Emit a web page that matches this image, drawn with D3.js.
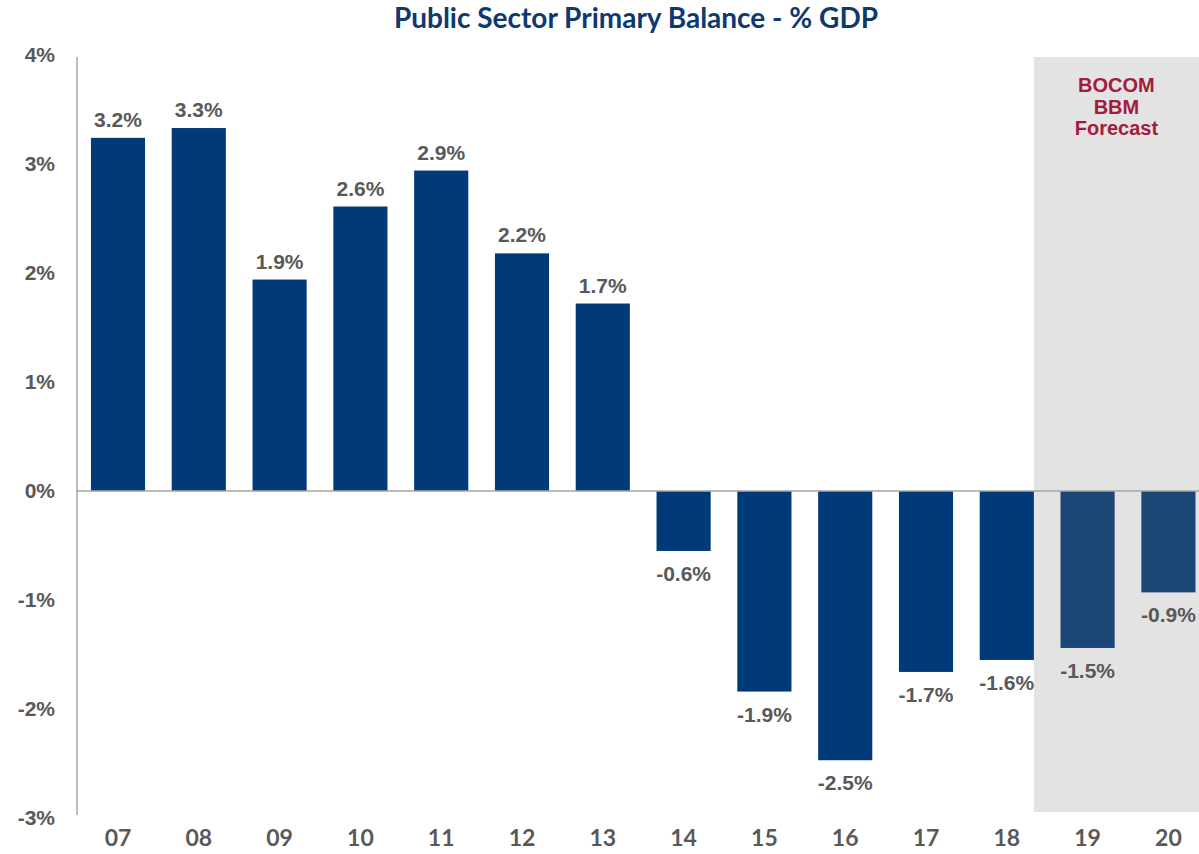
<!DOCTYPE html>
<html>
<head>
<meta charset="utf-8">
<script src="https://cdn.jsdelivr.net/npm/d3@7"></script>
<style>
  body { margin: 0; background: #fff; }
</style>
</head>
<body>
<div id="wrapper"></div>
<script>
const years = ["07", "08", "09", "10", "11", "12", "13", "14", "15", "16", "17", "18", "19", "20"];
const balance = [3.24, 3.33, 1.94, 2.61, 2.94, 2.18, 1.72, -0.55, -1.84, -2.47, -1.66, -1.55, -1.44, -0.93];
const valueLabels = ["3.2%", "3.3%", "1.9%", "2.6%", "2.9%", "2.2%", "1.7%", "-0.6%", "-1.9%", "-2.5%", "-1.7%", "-1.6%", "-1.5%", "-0.9%"];
const forecastYears = ["19", "20"];
const yTicks = [4, 3, 2, 1, 0, -1, -2, -3];
const forecastText = ["BOCOM", "BBM", "Forecast"];

const data = years.map((y, i) => ({ year: y, value: balance[i], label: valueLabels[i] }));

const dimensions = {
  width: 1199,
  height: 854,
};

const wrapper = d3.select("#wrapper")
  .append("svg")
    .attr("width", dimensions.width)
    .attr("height", dimensions.height);

const xScale = d3.scaleBand()
  .domain(years)
  .range([77.6, 77.6 + 14 * 80.8])
  .paddingInner(0.33)
  .paddingOuter(0.165);

const yScale = d3.scaleLinear()
  .domain([-3, 4])
  .range([818, 55]);

// forecast shading, starts at the right edge of the last actual bar
const fStart = xScale("18") + xScale.bandwidth();
wrapper.append("rect")
  .attr("x", fStart)
  .attr("y", 57)
  .attr("width", dimensions.width - fStart)
  .attr("height", 812 - 57)
  .attr("fill", "#e3e3e3");

wrapper.selectAll(".fc")
  .data(forecastText)
  .join("text")
    .attr("x", fStart + (dimensions.width - fStart) / 2)
    .attr("y", (d, i) => 92 + i * 21.5)
    .attr("text-anchor", "middle")
    .attr("font-family", "Liberation Sans, Arial, sans-serif")
    .attr("font-weight", "bold")
    .attr("font-size", 20)
    .attr("fill", "#a51c3a")
    .text(d => d);

// title
wrapper.append("text")
  .attr("x", 636)
  .attr("y", 28)
  .attr("text-anchor", "middle")
  .attr("font-family", "Lato, Open Sans, sans-serif")
  .attr("font-weight", "bold")
  .attr("font-size", 28)
  .attr("fill", "#0d3a6e")
  .text("Public Sector Primary Balance - % GDP");

// bars
wrapper.selectAll(".bar")
  .data(data)
  .join("rect")
    .attr("x", d => xScale(d.year))
    .attr("width", xScale.bandwidth())
    .attr("y", d => yScale(Math.max(0, d.value)))
    .attr("height", d => Math.abs(yScale(d.value) - yScale(0)))
    .attr("fill", d => forecastYears.includes(d.year) ? "#1b4676" : "#003a78");

// zero line
wrapper.append("line")
  .attr("x1", 77).attr("x2", dimensions.width)
  .attr("y1", yScale(0)).attr("y2", yScale(0))
  .attr("stroke", "#a6a6a6")
  .attr("stroke-width", 1.5);

// y axis line
wrapper.append("line")
  .attr("x1", 77).attr("x2", 77)
  .attr("y1", 57).attr("y2", 815)
  .attr("stroke", "#a6a6a6")
  .attr("stroke-width", 1.5);

// value labels
wrapper.selectAll(".val")
  .data(data)
  .join("text")
    .attr("x", d => xScale(d.year) + xScale.bandwidth() / 2)
    .attr("y", d => d.value >= 0 ? yScale(d.value) - 11 : yScale(d.value) + 30)
    .attr("text-anchor", "middle")
    .attr("font-family", "Liberation Sans, Arial, sans-serif")
    .attr("font-weight", "bold")
    .attr("font-size", 21)
    .attr("fill", "#595959")
    .text(d => d.label);

// y tick labels
wrapper.selectAll(".ytick")
  .data(yTicks)
  .join("text")
    .attr("x", 55)
    .attr("y", d => yScale(d) + 7)
    .attr("text-anchor", "end")
    .attr("font-family", "Liberation Sans, Arial, sans-serif")
    .attr("font-weight", "bold")
    .attr("font-size", 21)
    .attr("fill", "#595959")
    .text(d => d + "%");

// x tick labels
wrapper.selectAll(".xtick")
  .data(years)
  .join("text")
    .attr("x", d => xScale(d) + xScale.bandwidth() / 2)
    .attr("y", 846)
    .attr("text-anchor", "middle")
    .attr("font-family", "Lato, Open Sans, sans-serif")
    .attr("font-weight", "bold")
    .attr("font-size", 23)
    .attr("fill", "#595959")
    .text(d => d);
</script>
</body>
</html>
